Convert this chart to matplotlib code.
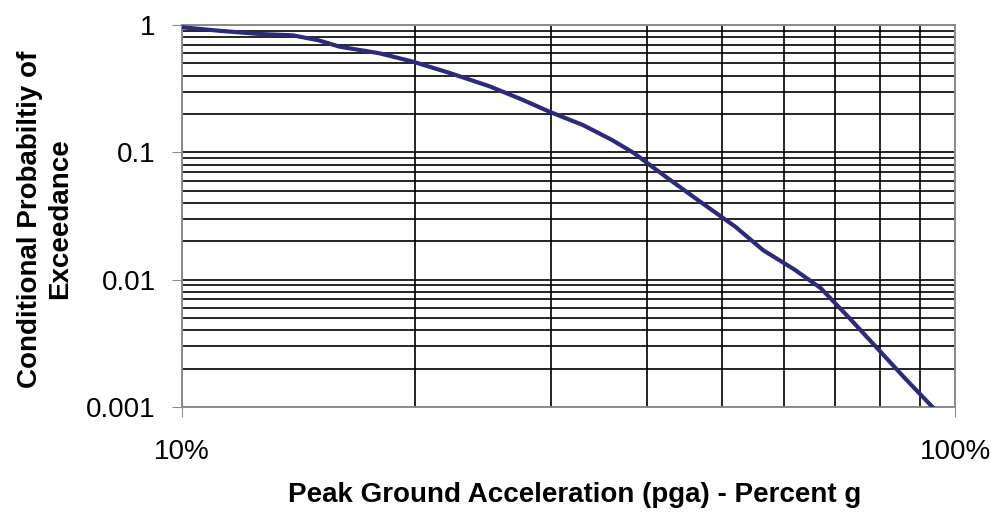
import numpy as np
import matplotlib.pyplot as plt
from matplotlib.ticker import FixedLocator, FixedFormatter, NullFormatter

# pga as fraction of g, and conditional probability of exceedance
pga = [0.100, 0.112, 0.126, 0.139, 0.150, 0.160, 0.180, 0.199, 0.222, 0.250,
       0.276, 0.299, 0.330, 0.360, 0.384, 0.420, 0.468, 0.520, 0.565, 0.620,
       0.670, 0.730, 0.793, 0.860, 0.935]
prob = [0.96, 0.90, 0.85, 0.83, 0.76, 0.675, 0.60, 0.515, 0.42, 0.33,
        0.258, 0.208, 0.164, 0.125, 0.099, 0.066, 0.041, 0.026, 0.017, 0.012,
        0.0086, 0.0050, 0.0029, 0.0017, 0.0010]

x_ticks = [0.1, 1.0]
x_labels = ['10%', '100%']
y_ticks = [0.001, 0.01, 0.1, 1]
y_labels = ['0.001', '0.01', '0.1', '1']

plt.rcParams['font.family'] = ['Liberation Sans', 'DejaVu Sans']

fig = plt.figure(figsize=(9.91, 5.12), dpi=100)
ax = fig.add_axes([182 / 991, 1 - 407 / 512, (955 - 182) / 991, (407 - 25) / 512])

ax.set_xscale('log')
ax.set_yscale('log')
ax.set_xlim(0.1, 1.0)
ax.set_ylim(0.001, 1)

# grid: every 1..9 within each decade, black
minor_x = [m * 0.1 for m in range(2, 10)]
minor_y = [m * d for d in (0.001, 0.01, 0.1) for m in range(2, 10)]
ax.xaxis.set_major_locator(FixedLocator(x_ticks))
ax.xaxis.set_major_formatter(FixedFormatter(x_labels))
ax.xaxis.set_minor_locator(FixedLocator(minor_x))
ax.xaxis.set_minor_formatter(NullFormatter())
ax.yaxis.set_major_locator(FixedLocator(y_ticks))
ax.yaxis.set_major_formatter(FixedFormatter(y_labels))
ax.yaxis.set_minor_locator(FixedLocator(minor_y))
ax.yaxis.set_minor_formatter(NullFormatter())

ax.grid(True, which='both', color='black', linewidth=1.2)
ax.set_axisbelow(True)

ax.plot(pga, prob, color='#2B2B7C', linewidth=3.0, zorder=3)

for s in ax.spines.values():
    s.set_color('#8C8C8C')
    s.set_linewidth(1.4)

ax.tick_params(which='major', direction='out', length=7, color='#8C8C8C',
               labelsize=20)
ax.tick_params(which='minor', length=0)
ax.tick_params(axis='x', which='major', pad=16)
ax.tick_params(axis='y', which='major', pad=12)

fig.text(575 / 991, 1 - 495 / 512, 'Peak Ground Acceleration (pga) - Percent g',
         fontsize=20, fontweight='bold', ha='center', va='center')
fig.text(45 / 991, 1 - 219 / 512, 'Conditional Probabiltiy of\nExceedance',
         fontsize=20, fontweight='bold', ha='center', va='center',
         rotation=90, multialignment='center', linespacing=1.22)

fig.savefig('out.png', dpi=100)
